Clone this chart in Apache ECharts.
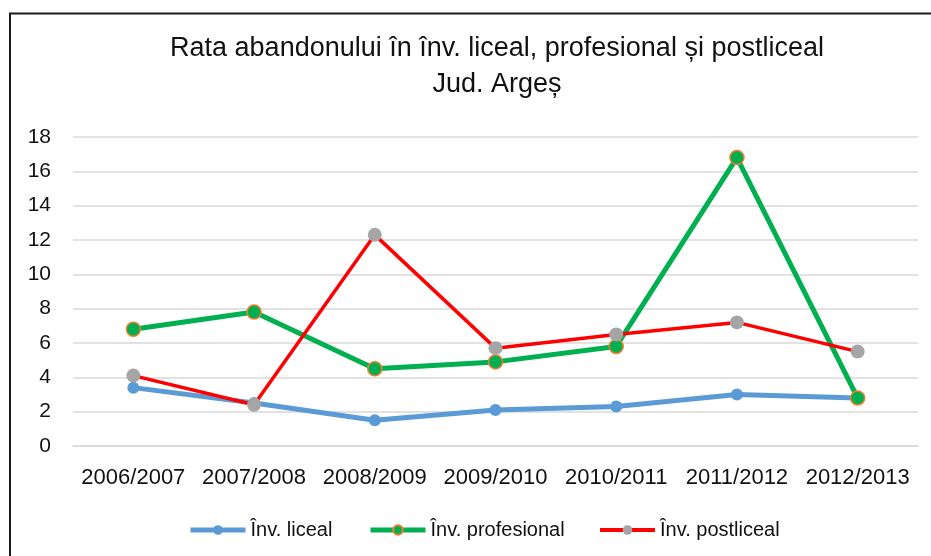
<!DOCTYPE html>
<html>
<head>
<meta charset="utf-8">
<script src="https://cdn.jsdelivr.net/npm/echarts@6/dist/echarts.min.js"></script>
<style>
  html, body { margin: 0; padding: 0; background: #fff; }
  #chart { width: 931px; height: 556px; }
</style>
</head>
<body>
<div id="chart"></div>
<script>
// date
var categorii = ['2006/2007', '2007/2008', '2008/2009', '2009/2010', '2010/2011', '2011/2012', '2012/2013'];
var liceal = [3.4, 2.5, 1.5, 2.1, 2.3, 3.0, 2.8];
var profesional = [6.8, 7.8, 4.5, 4.9, 5.8, 16.8, 2.8];
var postliceal = [4.1, 2.4, 12.3, 5.7, 6.5, 7.2, 5.5];
var numeSerii = ['Înv. liceal', 'Înv. profesional', 'Înv. postliceal'];

var font = "'Liberation Sans', Arial, sans-serif";

var myChart = echarts.init(document.getElementById('chart'));

function legenda(nume, left, latime) {
    return {
        data: [nume],
        left: left,
        top: 520,
        padding: 0,
        itemWidth: 55,
        itemHeight: 12,
        itemGap: 5,
        lineStyle: { width: latime },
        textStyle: { fontFamily: font, fontSize: 20, color: '#111', padding: [14, 0, 0, 0] }
    };
}

var option = {
    backgroundColor: '#fff',
    animation: false,
    title: {
        text: 'Rata abandonului în înv. liceal, profesional și postliceal\nJud. Argeș',
        left: 497,
        top: 31,
        padding: 0,
        textAlign: 'center',
        textStyle: {
            fontFamily: font,
            fontSize: 27,
            fontWeight: 'normal',
            lineHeight: 36,
            color: '#111'
        }
    },
    legend: [
        legenda(numeSerii[0], 188, 5),
        legenda(numeSerii[1], 368, 5),
        legenda(numeSerii[2], 598, 4)
    ],
    grid: {
        left: 73,
        right: 13,
        top: 137,
        bottom: 110
    },
    xAxis: {
        type: 'category',
        data: categorii,
        boundaryGap: true,
        axisLine: { show: true, lineStyle: { color: '#D9D9D9', width: 1.5 } },
        axisTick: { show: false },
        axisLabel: { fontFamily: font, fontSize: 22, color: '#111', margin: 21, interval: 0 }
    },
    yAxis: {
        type: 'value',
        min: 0,
        max: 18,
        interval: 2,
        axisLine: { show: false },
        axisTick: { show: false },
        axisLabel: { fontFamily: font, fontSize: 21, color: '#111', margin: 22 },
        splitLine: { lineStyle: { color: '#D9D9D9', width: 1.5 } }
    },
    series: [
        {
            name: numeSerii[0],
            type: 'line',
            data: liceal,
            symbol: 'circle',
            symbolSize: 12,
            lineStyle: { color: '#5B9BD5', width: 5 },
            itemStyle: { color: '#5B9BD5' }
        },
        {
            name: numeSerii[1],
            type: 'line',
            data: profesional,
            symbol: 'circle',
            symbolSize: 14,
            lineStyle: { color: '#00B050', width: 5 },
            itemStyle: { color: '#00B050', borderColor: '#ED7D31', borderWidth: 1.5 }
        },
        {
            name: numeSerii[2],
            type: 'line',
            data: postliceal,
            symbol: 'circle',
            symbolSize: 14,
            lineStyle: { color: '#FF0000', width: 3.5 },
            itemStyle: { color: '#A5A5A5' }
        }
    ],
    graphic: [
        {
            type: 'polyline',
            silent: true,
            shape: { points: [[10, 556], [10, 13.5], [931, 13.5]] },
            style: { stroke: '#1a1a1a', lineWidth: 2, fill: null }
        }
    ]
};
myChart.setOption(option);
</script>
</body>
</html>
